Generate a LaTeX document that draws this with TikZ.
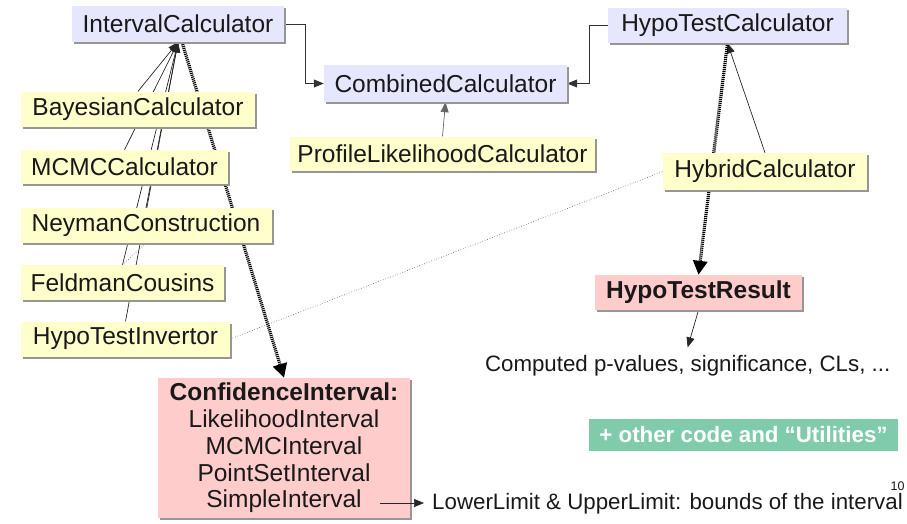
\documentclass[tikz,border=0pt]{standalone}
\usepackage{fontspec}
\setmainfont{Liberation Sans}
\usetikzlibrary{arrows.meta,shadows}
\pgfdeclarelayer{background}
\pgfsetlayers{background,main}

\definecolor{calcblue}{RGB}{230,230,255}
\definecolor{implyellow}{RGB}{255,255,204}
\definecolor{respink}{RGB}{255,204,204}
\definecolor{utilgreen}{RGB}{128,204,170}
\definecolor{shadowgray}{RGB}{150,150,150}
\definecolor{txtgray}{RGB}{25,25,25}

\begin{document}
\begin{tikzpicture}[x=1pt,y=1pt,yscale=-1,
	box/.style={inner sep=0pt,text=txtgray,font=\fontsize{24.5}{26.7}\selectfont,
		drop shadow={shadow xshift=2pt,shadow yshift=-2pt,fill=shadowgray,opacity=1}},
	calc/.style={box,fill=calcblue},
	impl/.style={box,fill=implyellow},
	result/.style={box,fill=respink},
	note/.style={inner sep=0pt,text=txtgray,font=\fontsize{22.3}{24}\selectfont},
	inherit/.style={draw=black!85,line width=0.7pt,-{Triangle[length=10pt,width=8pt]}},
	elbow/.style={draw=black!80,line width=1pt,-{Triangle[length=10pt,width=8pt]}},
	produces/.style={draw=black,line width=3.2pt,dash pattern=on 1.1pt off 0.9pt,
		-{Triangle[length=14pt,width=14pt]}},
	uses/.style={draw=black!70,line width=0.6pt,dotted}]
	\useasboundingbox (0,0) rectangle (907,523);

	% calculator interfaces
	\node[calc,minimum width=212pt,minimum height=36pt] (ic) at (178,24) {IntervalCalculator};
	\node[calc,minimum width=243pt,minimum height=37pt] (cc) at (445.5,83.5) {CombinedCalculator};
	\node[calc,minimum width=239pt,minimum height=35pt] (htc) at (727.5,25.5) {HypoTestCalculator};

	% implementations
	\node[impl,minimum width=305pt,minimum height=34pt] (plc) at (442.5,153.5) {ProfileLikelihoodCalculator};
	\node[impl,minimum width=234pt,minimum height=35pt] (bay) at (138,109) {BayesianCalculator};
	\node[impl,minimum width=207pt,minimum height=34pt] (mcmc) at (124.5,167) {MCMCCalculator};
	\node[impl,minimum width=251pt,minimum height=35pt] (ney) at (146,225.5) {NeymanConstruction};
	\node[impl,minimum width=203pt,minimum height=35pt] (fc) at (122.5,282.5) {FeldmanCousins};
	\node[impl,minimum width=209pt,minimum height=35pt] (hti) at (125.5,339) {HypoTestInvertor};
	\node[impl,minimum width=204pt,minimum height=37pt] (hyb) at (765,171.5) {HybridCalculator};

	% results
	\node[result,minimum width=207pt,minimum height=35pt,font=\fontsize{24.5}{26.7}\selectfont\bfseries] (htr) at (698.5,292.5) {HypoTestResult};
	\node[result,minimum width=252pt,minimum height=140pt,align=center] (ci) at (284,448)
		{\textbf{ConfidenceInterval:}\\LikelihoodInterval\\MCMCInterval\\PointSetInterval\\SimpleInterval};
	\coordinate (simp) at (380,503);

	\node[note,anchor=base west,outer xsep=0pt,outer ysep=8pt] (pv) at (485,371.5) {Computed p-values, significance, CLs, ...};
	\node[note,anchor=west,inner xsep=8pt] (lim) at (424,504) {LowerLimit \& UpperLimit: bounds of the interval};
	\node[fill=utilgreen,text=white,font=\fontsize{22.3}{24}\selectfont\bfseries,
		minimum width=309pt,minimum height=32pt,inner sep=0pt] (util) at (743.5,435) {+ other code and “Utilities”};
	\node[text=txtgray,font=\fontsize{12.5}{13}\selectfont,inner sep=0pt] (pg) at (897.5,486.5) {10};

	% interval bounds
	\draw[inherit] (simp) -- (lim.west |- simp);

	\begin{pgfonlayer}{background}
		% inheritance
		\draw[inherit] (bay.north) -- (ic.south);
		\draw[inherit] (mcmc.north) -- (ic.south);
		\draw[inherit] (ney.north) -- (ic.south);
		\draw[inherit] (fc.north) -- (ic.south);
		\draw[inherit] (hti.north) -- (ic.south);
		\draw[inherit] (hyb.north) -- (htc.south);
		\draw[inherit,draw=black!60] (plc.north) -- (cc.south);
		\draw[elbow] (ic.east) -- ++(21,0) |- (cc.west);
		\draw[elbow] (htc.west) -- ++(-18,0) |- (cc.east);

		% results
		\draw[produces] ([xshift=4pt]ic.south) -- (ci.north);
		\draw[produces] (htc.south) -- (htr.north);
		\draw[inherit] (htr.south) -- (pv.north);

		% usage
		\draw[uses] (fc.north) -- (ney.south);
		\draw[uses] (hti.east) -- (hyb.west);
	\end{pgfonlayer}
\end{tikzpicture}
\end{document}
